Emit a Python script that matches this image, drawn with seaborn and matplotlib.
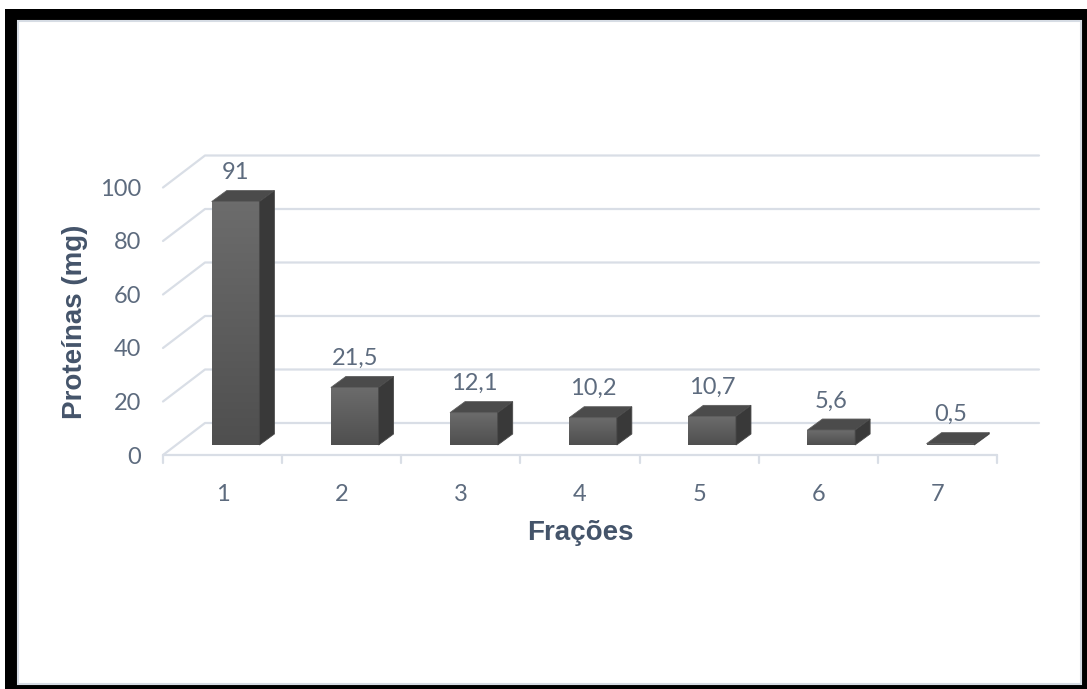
import matplotlib
matplotlib.use('Agg')
import numpy as np
import matplotlib.pyplot as plt
import seaborn as sns
from matplotlib.patches import Polygon, Rectangle
from matplotlib.lines import Line2D
from matplotlib.colors import LinearSegmentedColormap
from matplotlib.transforms import IdentityTransform, ScaledTranslation

fractions = ['1', '2', '3', '4', '5', '6', '7']
proteins = [91, 21.5, 12.1, 10.2, 10.7, 5.6, 0.5]
value_labels = ['91', '21,5', '12,1', '10,2', '10,7', '5,6', '0,5']
y_ticks = [0, 20, 40, 60, 80, 100]

sns.set_theme(style='white')
plt.rcParams['font.family'] = ['Lato', 'DejaVu Sans']

W, H = 1087, 689
fig = plt.figure(figsize=(W / 100, H / 100), dpi=100)
ax = fig.add_axes([176 / W, 1 - 445 / H, 834 / W, 267.5 / H])

sns.barplot(x=fractions, y=proteins, width=0.4, color='#5c5c5c', saturation=1,
            edgecolor='#6a6a6a', linewidth=0.6, ax=ax, zorder=3)
ax.set_xlim(-0.5, 6.5)
ax.set_ylim(0, 100)
sns.despine(ax=ax, left=True, bottom=True)

ident = IdentityTransform()
def px(x, y):
    return ax.transData.transform((x, y))

# fake 3d walls: back wall shifted right/up, floor front shifted left/down (pixels)
grid = '#D9DEE6'
back = (29, 22)
front = (-13, -10)
for v in y_ticks:
    x0, y0 = px(-0.5, v)
    x1, _ = px(6.5, v)
    ax.add_line(Line2D([x0 + front[0], x0 + back[0], x1 + back[0]],
                       [y0 + front[1], y0 + back[1], y0 + back[1]],
                       transform=ident, color=grid, lw=1.6, clip_on=False, zorder=1))
x0, y0 = px(-0.5, 0)
x1, _ = px(6.5, 0)
ax.add_line(Line2D([x0 + front[0], x1 + front[0]], [y0 + front[1]] * 2,
                   transform=ident, color=grid, lw=1.6, clip_on=False, zorder=1))
for i in range(8):
    xt, yt = px(i - 0.5, 0)
    ax.add_line(Line2D([xt + front[0]] * 2, [yt + front[1], yt + front[1] - 8],
                       transform=ident, color=grid, lw=1.6, clip_on=False, zorder=1))

# shaded front faces, then top and side faces of the bars
shade = LinearSegmentedColormap.from_list('shade', ['#6c6c6c', '#4f4f4f'])
grad = np.linspace(0, 1, 64).reshape(-1, 1)
dx, dy = 15, 11
for p in ax.patches[:len(proteins)]:
    xl, yb, w, h = p.get_x(), p.get_y(), p.get_width(), p.get_height()
    ax.imshow(grad, cmap=shade, extent=(xl, xl + w, yb, yb + h), aspect='auto',
              origin='upper', interpolation='bilinear', zorder=3.5)
    X0, Yt = px(xl, yb + h)
    X1, Yb = px(xl + w, yb)
    ax.add_patch(Polygon([(X0, Yt), (X1, Yt), (X1 + dx, Yt + dy), (X0 + dx, Yt + dy)],
                         closed=True, transform=ident, fc='#4b4b4b', ec='#5e5e5e',
                         lw=0.6, clip_on=False, zorder=4))
    ax.add_patch(Polygon([(X1, Yt), (X1 + dx, Yt + dy), (X1 + dx, Yb + dy), (X1, Yb)],
                         closed=True, transform=ident, fc='#393939', ec='#4a4a4a',
                         lw=0.6, clip_on=False, zorder=4))
ax.set_xlim(-0.5, 6.5)
ax.set_ylim(0, 100)

txt = '#5D6B7E'
for i, (v, lab) in enumerate(zip(proteins, value_labels)):
    ax.annotate(lab, (i, v), xytext=(0, 29), textcoords='offset pixels',
                ha='center', va='center', fontsize=17, color=txt, zorder=5)

ax.set_yticks(y_ticks)
ax.tick_params(axis='y', length=0, pad=25, labelsize=17, labelcolor=txt)
ax.tick_params(axis='x', length=0, pad=28, labelsize=17, labelcolor=txt)
for t in ax.yaxis.get_major_ticks():
    t.label1.set_transform(t.label1.get_transform() + ScaledTranslation(0, -0.10, fig.dpi_scale_trans))
for t in ax.xaxis.get_major_ticks():
    t.label1.set_transform(t.label1.get_transform() + ScaledTranslation(-0.13, 0, fig.dpi_scale_trans))

title_font = ['Liberation Sans', 'DejaVu Sans']
ax.set_xlabel('Frações', fontsize=20, fontweight='bold', color='#44546A', family=title_font)
ax.set_ylabel('Proteínas (mg)', fontsize=20, fontweight='bold', color='#44546A', family=title_font)
ax.xaxis.set_label_coords((580 - 176) / 834, (445 - 533) / 267.5)
ax.xaxis.label.set_va('center')
ax.yaxis.set_label_coords((75 - 176) / 834, (445 - 322) / 267.5)
ax.yaxis.label.set_va('center')

# black frame around the picture
def frame(x0, y0, x1, y1, **kw):
    fig.add_artist(Rectangle((x0 / W, 1 - y1 / H), (x1 - x0) / W, (y1 - y0) / H,
                             transform=fig.transFigure, **kw))
for r in [(5, 9, 17, 689), (5, 9, 1087, 20), (1082, 9, 1087, 689), (5, 685, 1087, 689)]:
    frame(*r, fc='black', ec='none')
frame(18, 21, 1081, 684, fc='none', ec='#D6DCE4', lw=1.5)

fig.savefig('out.png', dpi=100)
